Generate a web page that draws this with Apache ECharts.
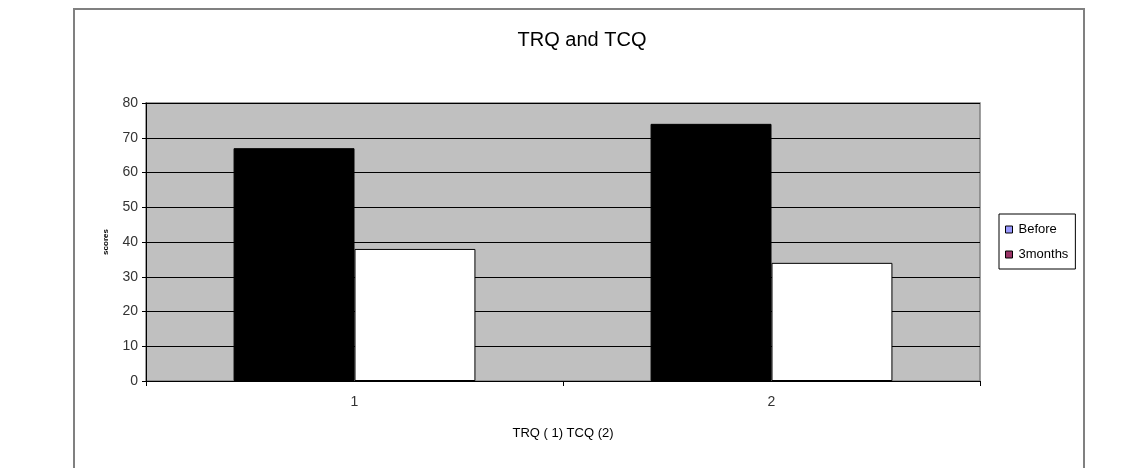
<!DOCTYPE html>
<html>
<head>
<meta charset="utf-8">
<script src="https://cdn.jsdelivr.net/npm/echarts@6/dist/echarts.min.js"></script>
<style>
html,body{margin:0;padding:0;background:#fff;}
#c{width:1140px;height:468px;}
</style>
</head>
<body>
<div id="c"></div>
<script>
const categories = ['1', '2'];
const seriesNames = ['Before', '3months'];
const beforeValues = [67, 74];
const threeMonthsValues = [38, 34];
const yTicks = [0, 10, 20, 30, 40, 50, 60, 70, 80];

const chart = echarts.init(document.getElementById('c'));
const font = '"Liberation Sans", Arial, sans-serif';
chart.setOption({
  animation: false,
  backgroundColor: '#ffffff',
  title: {
    text: 'TRQ and TCQ',
    left: 577, top: 25, textAlign: 'center',
    textStyle: { fontFamily: font, fontSize: 20, fontWeight: 'normal', color: '#000' }
  },
  graphic: [{
    type: 'rect', silent: true, z: -1,
    shape: { x: 74, y: 9, width: 1010, height: 480 },
    style: { fill: null, stroke: '#808080', lineWidth: 2 }
  }],
  legend: {
    orient: 'vertical',
    left: 999, top: 214,
    width: 77,
    padding: [9, 7, 8, 6],
    itemGap: 12,
    backgroundColor: '#fff',
    borderColor: '#000', borderWidth: 1,
    icon: 'rect', itemWidth: 7, itemHeight: 7,
    textStyle: { fontFamily: font, fontSize: 13, color: '#000', padding: [0, 0, 0, 1] },
    data: [
      { name: seriesNames[0], itemStyle: { color: '#9999ff', borderColor: '#000', borderWidth: 1 } },
      { name: seriesNames[1], itemStyle: { color: '#993366', borderColor: '#000', borderWidth: 1 } }
    ]
  },
  grid: {
    left: 146, right: 160, top: 103, bottom: 87,
    show: true, backgroundColor: '#c0c0c0', borderColor: '#808080', borderWidth: 1.5
  },
  xAxis: {
    type: 'category',
    data: categories,
    name: 'TRQ ( 1) TCQ (2)',
    nameLocation: 'middle', nameGap: 46,
    nameTextStyle: { fontFamily: font, fontSize: 13, color: '#000' },
    axisLine: { lineStyle: { color: '#000', width: 1 } },
    axisTick: { show: true, length: 5, lineStyle: { color: '#000' } },
    axisLabel: { fontFamily: font, fontSize: 14, color: '#333', margin: 14 }
  },
  yAxis: {
    type: 'value',
    min: yTicks[0], max: yTicks[yTicks.length - 1], interval: 10,
    name: 'scores',
    nameLocation: 'middle', nameGap: 36, nameRotate: 90,
    nameTextStyle: { fontFamily: font, fontSize: 8, fontWeight: 'bold', color: '#000' },
    axisLine: { show: true, lineStyle: { color: '#000', width: 1 } },
    axisTick: { show: true, length: 4, lineStyle: { color: '#000' } },
    axisLabel: { fontFamily: font, fontSize: 14, color: '#333', margin: 8 },
    splitLine: { show: true, lineStyle: { color: '#000', width: 1 } }
  },
  series: [
    {
      name: seriesNames[0], type: 'bar', data: beforeValues,
      barGap: '0%', barCategoryGap: '42%',
      itemStyle: { color: '#000', borderColor: '#000', borderWidth: 1 }
    },
    {
      name: seriesNames[1], type: 'bar', data: threeMonthsValues,
      barGap: '0%', barCategoryGap: '42%',
      itemStyle: { color: '#fff', borderColor: '#000', borderWidth: 1 }
    }
  ]
});
</script>
</body>
</html>
